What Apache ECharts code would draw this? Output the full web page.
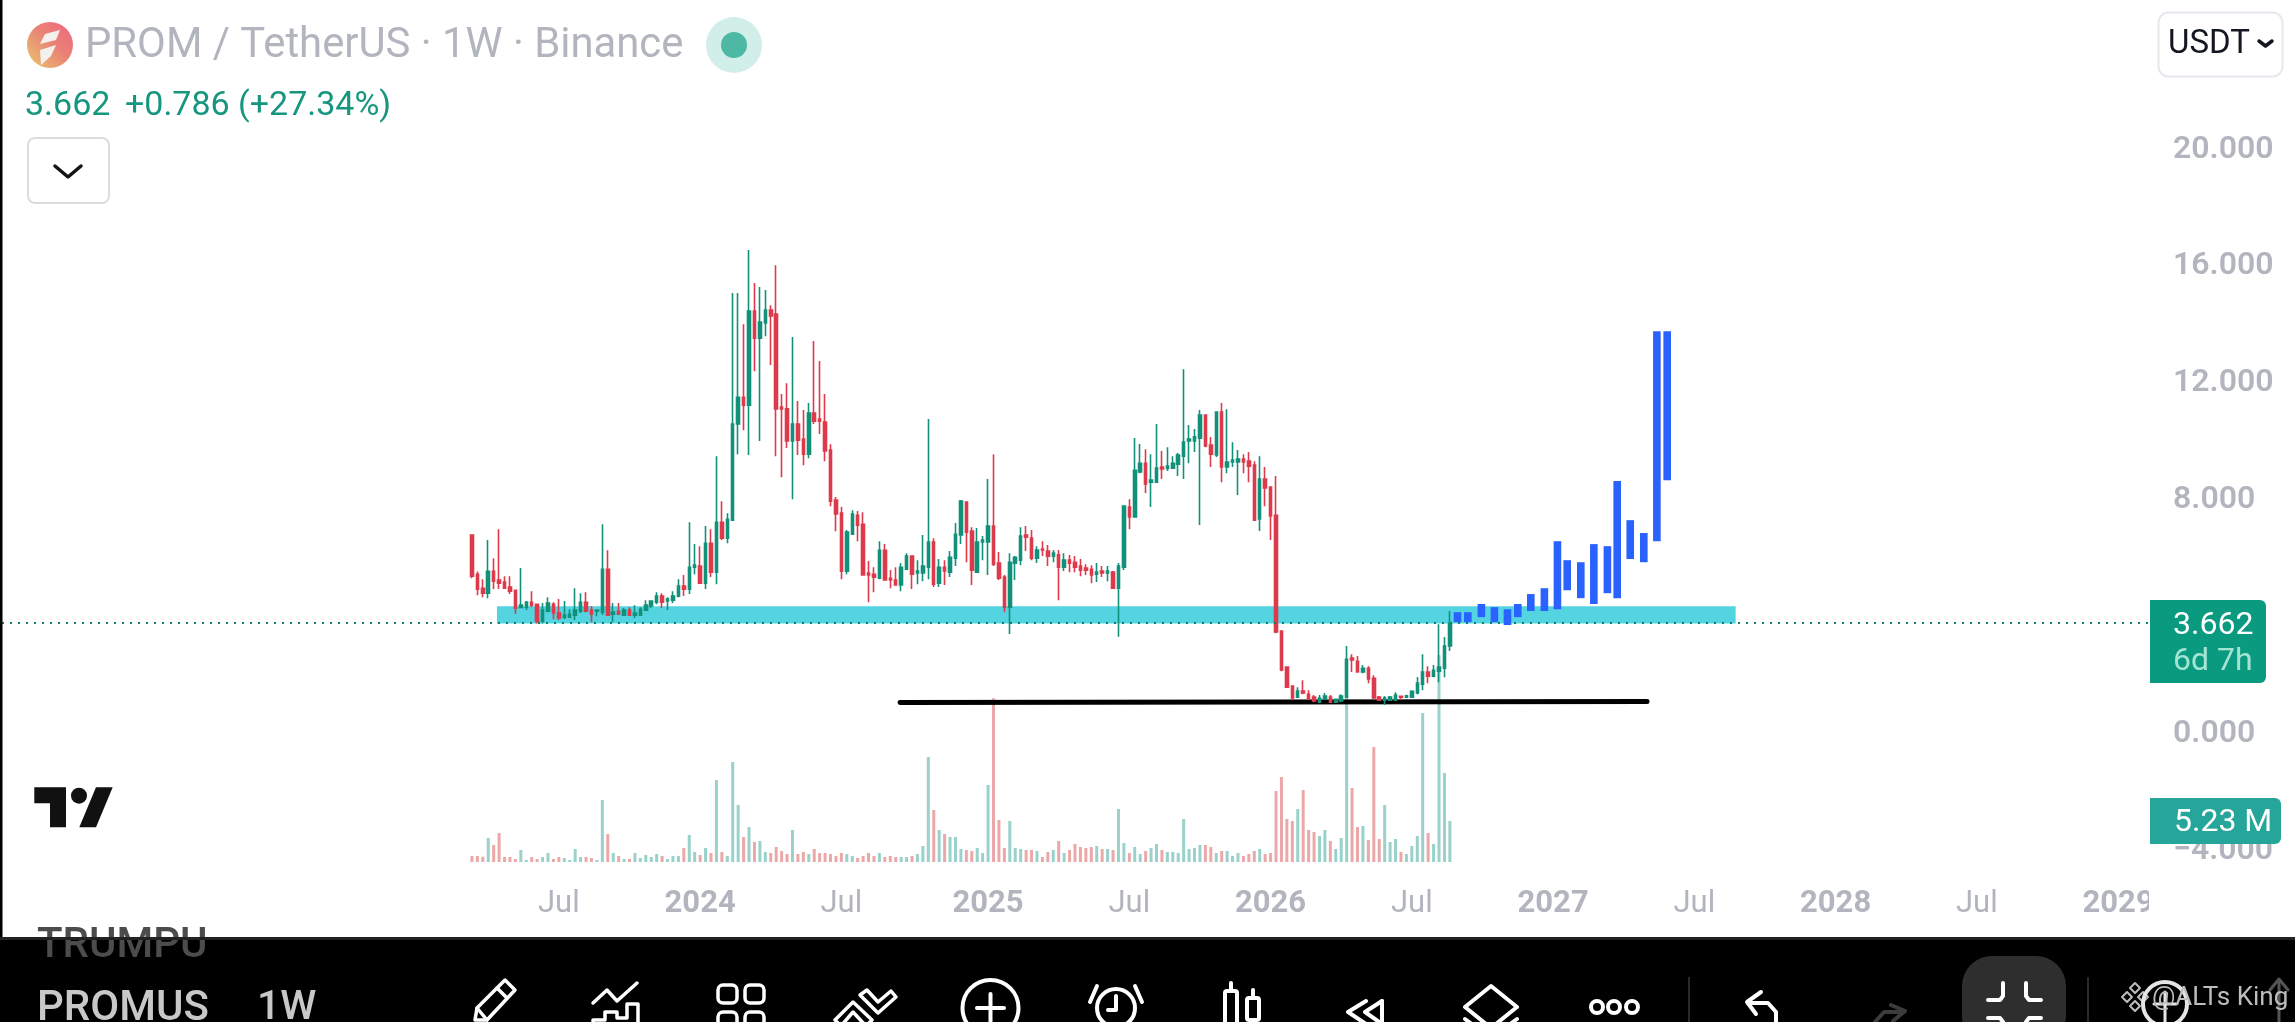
<!DOCTYPE html>
<html><head><meta charset="utf-8">
<style>html,body{margin:0;padding:0;background:#fff;overflow:hidden}#c{width:2295px;height:1022px}</style>
<script src="https://cdn.jsdelivr.net/npm/echarts@6/dist/echarts.min.js"></script>
</head><body><div id="c"></div>
<script>
// weekly candles: [open, close, low, high]
const ohlc = [
[6.68,5.27,5.20,6.68],[5.34,4.83,4.62,5.43],[4.86,4.69,4.55,5.17],[4.69,5.44,4.52,6.51],[5.44,5.10,4.83,5.89],[5.14,5.03,4.83,6.88],[5.07,4.86,4.83,5.27],[4.90,4.76,4.66,5.27],[4.79,4.18,3.99,4.79],[4.20,4.28,4.18,5.55],
[4.21,4.38,4.11,4.42],[4.38,4.28,4.21,4.76],[4.31,3.73,3.65,4.31],[3.73,4.11,3.65,4.35],[4.07,4.35,4.04,4.55],[4.31,4.01,3.80,4.38],[4.01,3.84,3.77,4.49],[3.87,3.94,3.80,4.42],[3.87,3.97,3.84,4.14],[3.94,4.11,3.77,4.86],
[4.07,4.38,4.01,4.69],[4.38,4.07,4.04,4.72],[4.11,3.97,3.70,4.25],[4.07,4.11,3.90,4.11],[4.04,5.51,3.94,7.05],[5.51,3.94,3.94,6.16],[3.97,4.04,3.70,4.35],[4.07,3.97,3.94,4.35],[3.94,4.11,3.94,4.18],[4.11,3.94,3.94,4.21],
[3.94,4.01,3.84,4.28],[3.94,4.14,3.94,4.21],[4.11,4.28,4.11,4.45],[4.25,4.42,4.18,4.42],[4.38,4.59,4.31,4.72],[4.59,4.38,4.18,4.69],[4.42,4.49,4.11,4.55],[4.45,4.59,4.35,4.76],[4.59,4.93,4.55,5.17],[4.93,4.83,4.59,5.31],
[4.83,5.58,4.66,7.12],[5.58,5.65,5.34,6.37],[5.62,5.03,5.03,6.30],[5.03,6.40,4.83,6.99],[6.40,5.41,5.24,6.88],[5.41,7.12,5.00,9.38],[7.12,6.57,6.51,7.84],[6.57,7.22,6.40,7.43],[7.19,10.48,7.16,14.97],[10.48,11.40,9.45,14.97],
[11.40,11.13,10.27,13.90],[11.13,14.35,9.42,16.44],[14.35,13.42,12.29,15.31],[13.42,13.97,9.90,15.17],[13.94,14.38,13.49,15.07],[14.38,14.18,12.50,14.55],[14.25,11.00,9.38,15.92],[11.06,11.00,8.66,11.51],[11.00,9.90,9.66,11.88],[9.90,10.48,7.91,13.46],
[10.48,9.93,9.42,11.27],[9.97,9.45,9.07,10.96],[9.45,10.86,9.31,11.20],[10.86,10.58,10.48,13.32],[10.65,10.58,10.14,12.64],[10.55,9.56,9.21,11.51],[9.59,7.84,7.67,9.79],[7.88,7.40,6.81,7.98],[7.43,5.44,5.17,7.64],[5.44,6.78,5.34,6.85],
[6.71,7.40,6.71,7.53],[7.36,7.02,6.47,7.50],[7.05,5.31,5.31,7.46],[5.38,5.31,4.38,5.79],[5.34,5.24,4.72,5.58],[5.20,6.16,5.17,6.47],[6.16,5.14,5.14,6.37],[5.20,5.14,4.86,5.48],[5.14,4.97,4.97,5.58],[4.97,5.58,4.76,5.72],
[5.51,5.96,5.48,6.06],[5.96,5.34,4.83,5.96],[5.38,5.45,5.00,5.82],[5.38,5.62,5.10,6.68],[5.58,6.44,5.17,10.65],[6.44,5.00,4.90,6.57],[5.03,5.58,4.90,5.86],[5.58,5.45,4.97,5.82],[5.41,5.92,5.24,6.13],[5.89,6.71,5.62,7.09],
[6.68,7.84,6.37,7.88],[7.81,6.78,5.75,7.81],[6.82,5.48,4.97,6.95],[5.41,6.44,5.38,6.92],[6.44,6.51,5.82,6.65],[6.44,6.99,5.31,8.60],[6.99,5.68,5.62,9.45],[5.72,5.20,5.14,6.10],[5.24,4.21,4.04,5.31],[4.21,5.75,3.29,6.06],
[5.72,5.92,5.14,5.96],[5.82,6.65,5.65,6.95],[6.68,6.61,6.13,6.99],[6.58,5.89,5.82,6.85],[5.89,6.17,5.72,6.30],[6.20,6.17,5.96,6.47],[6.13,5.96,5.62,6.34],[5.96,6.06,5.75,6.17],[6.00,5.58,4.45,6.17],[5.58,5.82,5.45,6.06],
[5.82,5.72,5.41,6.00],[5.75,5.58,5.41,5.96],[5.62,5.48,5.27,5.86],[5.55,5.48,5.31,5.68],[5.51,5.31,5.03,5.65],[5.34,5.41,5.07,5.72],[5.45,5.38,5.24,5.62],[5.38,5.45,5.10,5.62],[5.41,4.86,4.86,5.45],[4.86,5.62,3.20,5.72],
[5.58,7.67,5.48,7.70],[7.64,7.30,6.88,7.91],[7.30,8.90,7.30,10.00],[8.84,9.14,8.80,9.80],[9.14,8.43,8.12,9.62],[8.49,8.56,7.64,9.45],[8.49,8.97,8.49,10.48],[9.01,8.94,8.60,9.56],[8.97,9.04,8.87,9.69],[8.97,9.14,8.94,9.38],
[9.11,9.42,8.70,9.49],[9.38,9.86,8.60,12.36],[9.90,9.97,9.14,10.45],[9.90,10.04,9.52,10.31],[10.00,10.79,7.02,10.96],[10.79,9.73,9.69,10.82],[9.76,9.45,9.01,10.04],[9.42,10.89,9.35,10.92],[10.89,9.01,8.49,11.20],[9.01,9.18,8.80,10.99],
[9.18,9.25,9.01,9.86],[9.18,9.28,8.05,9.59],[9.28,9.18,8.80,9.45],[9.21,9.04,8.49,9.52],[9.08,7.19,7.16,9.21],[7.23,8.60,6.82,9.38],[8.60,8.29,7.67,9.01],[8.32,7.33,6.51,8.32],[7.36,3.36,3.32,8.70],[3.39,2.06,2.02,3.39],
[2.16,1.47,1.44,2.19],[1.51,1.10,1.03,1.54],[1.13,1.34,1.13,1.47],[1.34,1.27,1.23,1.71],[1.23,1.06,1.06,1.37],[1.13,1.00,0.96,1.20],[0.96,1.10,0.96,1.20],[1.06,1.17,1.03,1.27],[1.13,0.96,0.93,1.20],[0.96,1.06,0.93,1.06],
[1.00,1.17,0.96,1.23],[1.13,2.43,1.10,2.88],[2.47,2.40,1.99,2.60],[2.36,1.99,1.99,2.54],[1.99,2.12,1.95,2.23],[2.12,1.75,1.61,2.19],[1.78,1.10,1.06,1.88],[1.13,1.03,1.00,1.17],[1.03,1.10,0.86,1.17],[1.03,1.13,1.00,1.17],
[1.03,1.20,1.00,1.30],[1.16,1.13,1.03,1.16],[1.13,1.18,1.13,1.18],[1.13,1.33,1.10,1.37],[1.27,1.61,1.23,1.82],[1.57,1.99,1.37,2.60],[1.99,1.85,1.61,2.19],[1.85,2.05,1.81,2.23],[2.02,2.16,1.64,3.63],[2.12,2.88,1.81,3.19],
[2.88,3.662,2.71,4.08]
];
// weekly volume, millions
const volumes = [
.77,.77,.68,3.06,2.17,3.70,.64,.64,.38,1.53,.26,.64,.38,.64,1.15,.38,.64,.51,.26,1.66,.64,.64,.51,.26,7.91,3.57,1.15,.77,.38,.38,
1.15,.51,.89,.64,1.02,.77,.38,.77,.77,1.79,3.44,1.28,.89,1.79,1.15,10.46,1.28,.77,12.76,7.27,3.19,4.46,2.55,2.68,1.28,1.15,1.91,1.40,1.02,4.08,
1.02,1.28,1.02,1.66,1.15,1.15,1.02,.77,1.15,1.02,.77,.51,.77,1.15,.77,1.15,.64,.77,.64,.64,.64,.77,1.02,2.04,13.39,6.63,4.08,3.57,3.19,3.19,
1.66,1.53,1.40,1.79,1.15,9.82,20.88,5.36,1.79,5.23,1.79,1.66,1.53,1.53,1.40,.64,1.28,1.53,2.68,1.15,1.53,2.30,1.91,1.79,1.91,2.04,1.66,1.66,1.53,6.76,
2.42,1.15,1.91,1.02,1.40,1.79,2.30,1.53,1.28,1.28,1.15,5.48,1.66,1.79,2.17,2.17,1.91,1.15,1.40,1.40,.77,1.15,.77,1.02,1.40,1.66,1.02,1.15,9.06,10.84,
5.48,5.23,6.76,9.18,4.08,3.83,3.32,4.08,2.68,1.66,3.06,21.9,9.44,4.46,4.59,2.81,14.67,2.93,7.27,2.55,2.93,1.28,1.02,2.04,3.32,19.0,3.70,2.30,26.4,11.35,
5.23];
// hand-drawn forecast boxes, in weeks since the first candle
const forecastWeek = [181.4,183.3,185.8,188.2,190.6,192.5,194.9,197.4,199.8,201.6,204.1,206.5,209,210.8,213.2,215.7,218.1,220];
const forecastLow  = [3.70,3.70,3.87,3.70,3.60,3.87,4.08,4.08,4.14,4.79,4.52,4.32,4.69,4.52,5.86,5.75,6.47,8.56];
const forecastHigh = [4.04,4.04,4.32,4.21,4.14,4.32,4.66,4.86,6.47,5.82,5.75,6.37,6.30,8.53,7.19,6.75,13.66,13.66];
const supportBand = [4.6,232.6,3.65,4.24];
const supportLine = [[78.8,0.95],[216.3,0.985]];
const tickWeeks = [102,128,154,181,207,233,259,285,311,337,363,389];
const tickLabels = ['Jul','2024','Jul','2025','Jul','2026','Jul','2027','Jul','2028','Jul','2029'];
const priceTicks = {min:-4,max:20,interval:4};
const lastPrice = 3.67;

const N = 395, FIRST = 86;
const categories = Array.from({length:N},(_, i)=>{const k=tickWeeks.indexOf(i);return k<0?'':tickLabels[k];});
const pad = Array.from({length:FIRST},()=>[null,null,null,null]);
const UP='#12917a', DOWN='#dd3a4c', VUP='#99d1cb', VDOWN='#eca8a8', GREY='#b2b5be';
const volItems = pad.map(()=>null).concat(volumes.map((v,i)=>({value:v,itemStyle:{color:ohlc[i][1]>=ohlc[i][0]?VUP:VDOWN}})));

// ---- decorations ----
const g=[]; const Z=50;
const txt=(x,y,text,font,fill,align,z)=>g.push({type:'text',z:z||Z,silent:true,style:{x,y,text,font,fill,textAlign:align||'left',textVerticalAlign:'middle'}});
const rect=(x,y,w,h,fill,r,stroke,lw,z)=>g.push({type:'rect',z:z||Z,silent:true,shape:{x,y,width:w,height:h,r:r||0},style:{fill:fill||'none',stroke:stroke||null,lineWidth:lw||0}});
const poly=(pts,stroke,lw,z)=>g.push({type:'polyline',z:z||Z,silent:true,shape:{points:pts},style:{stroke:stroke||'#fff',lineWidth:lw||3.5,fill:'none',lineCap:'round',lineJoin:'round'}});
const pgon=(pts,fill,stroke,lw,z)=>g.push({type:'polygon',z:z||Z,silent:true,shape:{points:pts},style:{fill:fill||'none',stroke:stroke||null,lineWidth:lw||0,lineJoin:'round'}});
const circ=(cx,cy,r,fill,stroke,lw,z)=>g.push({type:'circle',z:z||Z,silent:true,shape:{cx,cy,r},style:{fill:fill||'none',stroke:stroke||null,lineWidth:lw||0}});

// right scale: clip the time labels at the pane edge
rect(2149,870,146,66,'#fff',0,null,0,20);
// header
g.push({type:'circle',z:Z,silent:true,shape:{cx:50,cy:45,r:23},style:{fill:{type:'linear',x:0,y:1,x2:1,y2:0,colorStops:[{offset:0,color:'#e8c86c'},{offset:.55,color:'#ea8276'},{offset:1,color:'#ee6680'}]}}});
pgon([[40,44],[45,34],[60,30],[56,40]],'#f4f0ee');
pgon([[40,50],[56,45],[51,56],[41,65]],'#f4f0ee');
txt(85,47,'PROM / TetherUS · 1W · Binance','41.8px Roboto',GREY);
circ(734,45,28,'#d2eee9'); circ(734,45,13,'#4db8a4');
txt(25,106,'3.662','34px Roboto','#17967f');
txt(125,106,'+0.786 (+27.34%)','34px Roboto','#17967f');
rect(28,138,81,65,'#fff',7,'#dcdcdc',2);
poly([[55,166],[68,177],[81,166]],'#131313',3.5);
// USDT
rect(2158.5,12.5,124,64,'#fff',10,'#e6e8ee',2);
txt(2168,45,'USDT','33px Roboto','#131722');
poly([[2259,41],[2265.5,46],[2272,41]],'#131722',3.5);
// TV logo
pgon([[34.3,787.3],[66,787.3],[66,827.3],[50,827.3],[50,803.3],[34.3,803.3]],'#111');
circ(79,795.7,8,'#111');
pgon([[96,787.3],[112.7,787.3],[96,827.3],[79.3,827.3]],'#111');
// price labels
g.push({type:'rect',z:Z,silent:true,shape:{x:2150,y:600,width:116,height:83,r:[0,6,6,0]},style:{fill:'#0a9a80'}});
txt(2173,626,'3.662','32px Roboto','#fff');
txt(2173,662,'6d 7h','32px Roboto','#a5e3d3');
g.push({type:'rect',z:Z,silent:true,shape:{x:2150,y:798,width:131,height:46,r:[0,6,6,0]},style:{fill:'#26a69a'}});
txt(2174,823,'5.23 M','32px Roboto','#fff');
// bottom bar
rect(0,937,2295,85,'#000',0,null,0,40);
rect(0,937,2295,3,'#222',0,null,0,43);
rect(0,0,2.5,1022,'#000',0,null,0,41);
txt(37,946,'TRUMPU','500 42px Roboto','#4c4c4c','left',42);
txt(37,1009,'PROMUS','500 42px Roboto','#c8c8c8');
txt(257,1009,'1W','500 41px Roboto','#c8c8c8');
// pencil
pgon([[477,1008],[505,980],[515,990],[487,1020],[475,1020]],null,'#fff',3.5); poly([[477,1008],[487,1020]]); poly([[497,988],[507,998]]);
// indicators
poly([[593,1003],[607,990],[617,1001],[637,983]]);
poly([[593,1026],[593,1020],[605,1020],[605,1012],[617,1012],[617,1018],[627,1018],[627,1004],[638,1004],[638,1026]]);
// apps
[[718,985],[745,985],[718,1012],[745,1012]].forEach(p=>rect(p[0],p[1],19,18,null,5,'#fff',3.5));
// chevrons tool
pgon([[860,995],[867,990],[878,1002],[891,991],[896,997],[878,1013]],null,'#fff',3.5);
pgon([[835,1020],[853,1002],[872,1020],[866,1026],[853,1012],[841,1026]],null,'#fff',3.5);
// plus
circ(990.5,1008,28,null,'#fff',4); poly([[990.5,994],[990.5,1022]],'#fff',4); poly([[977,1008],[1004,1008]],'#fff',4);
// alarm
circ(1116,1008,19,null,'#fff',4); poly([[1116,996],[1116,1010],[1108,1010]],'#fff',4);
poly([[1090,1002],[1097,986]],'#fff',4); poly([[1142,1002],[1135,986]],'#fff',4);
// candles
rect(1225,991,12,40,null,2,'#fff',4); poly([[1231,983],[1231,991]],'#fff',4);
rect(1247,998,12,22,null,2,'#fff',4); poly([[1253,990],[1253,998]],'#fff',4); poly([[1253,1020],[1253,1024]],'#fff',4);
// rewind
poly([[1366,1001],[1348,1012],[1366,1024]],'#fff',4); poly([[1382,1001],[1365,1012],[1382,1024]],'#fff',4); poly([[1382,1001],[1382,1026]],'#fff',4);
// layers
pgon([[1491,986],[1517,1007],[1491,1028],[1465,1007]],null,'#fff',4);
poly([[1465,1019],[1477,1028]],'#fff',4); poly([[1517,1019],[1505,1028]],'#fff',4);
// more
[1597,1614,1632].forEach(x=>circ(x,1007,6,null,'#fff',4));
rect(1688,977,2,50,'#2a2a2a');
// undo / redo
poly([[1756,1014],[1747,1002],[1761,992]],'#fff',4); poly([[1748,1003],[1768,1003],[1776,1012],[1776,1028]],'#fff',4);
poly([[1891,1005],[1905,1011],[1893,1021]],'#3c3c3c',4); poly([[1904,1012],[1884,1012],[1875,1022],[1875,1030]],'#3c3c3c',4);
// fullscreen button
rect(1962,956,104,90,'#2e2e2e',30,null,0,44);
poly([[1988,1000],[2000,1000],[2003,996],[2003,983]],'#fff',4,45);
poly([[2041,1000],[2029,1000],[2026,996],[2026,983]],'#fff',4,45);
poly([[1988,1018],[2000,1018],[2003,1022]],'#fff',4,45);
poly([[2041,1018],[2029,1018],[2026,1022]],'#fff',4,45);
rect(2087,977,2,50,'#2a2a2a');
// watermark
[[2135,988],[2127,997],[2143,997],[2135,1006]].forEach(p=>pgon([[p[0],p[1]-5],[p[0]+5,p[1]],[p[0],p[1]+5],[p[0]-5,p[1]]],null,'#bdbdbd',2));
circ(2165,1004,22,null,'#e6e6e6',4); poly([[2165,992],[2165,1022]],'#e6e6e6',3); poly([[2154,1004],[2176,1004]],'#e6e6e6',3);
poly([[2279,1022],[2279,980]],'#555',3); poly([[2270,990],[2279,979],[2288,990]],'#555',3);
txt(2152,998,'@ALTs King','26px Roboto','#bdbdbd');

const chart = echarts.init(document.getElementById('c'),null,{renderer:'canvas'});
chart.setOption({
  animation:false, backgroundColor:'#fff',
  grid:[
    {left:2,top:146,width:2146,height:701},
    {left:2,top:642.5,width:2146,height:219.5}
  ],
  xAxis:[
    {type:'category',gridIndex:0,data:categories,show:false,boundaryGap:true},
    {type:'value',gridIndex:0,show:false,min:-FIRST-0.5,max:N-FIRST-0.5},
    {type:'category',gridIndex:1,data:categories,boundaryGap:true,
      axisLine:{show:false},axisTick:{show:false},splitLine:{show:false},
      axisLabel:{show:true,margin:27,interval:(i,v)=>v!=='',hideOverlap:false,color:GREY,fontFamily:'Roboto',fontSize:31,
        formatter:v=>v==='Jul'?v:'{y|'+v+'}',rich:{y:{fontWeight:700,fontSize:31,color:GREY,fontFamily:'Roboto'}}}}
  ],
  yAxis:[
    {type:'value',gridIndex:0,position:'right',min:priceTicks.min,max:priceTicks.max,interval:priceTicks.interval,
      axisLine:{show:false},axisTick:{show:false},splitLine:{show:false},
      axisLabel:{margin:25,formatter:v=>v===4?'':'{p|'+(v<0?'\u2212':'')+Math.abs(v).toFixed(3)+'}',
        rich:{p:{color:GREY,fontFamily:'Roboto',fontSize:32,fontWeight:600,padding:[7,0,0,0]}}}},
    {type:'value',gridIndex:1,min:0,max:28,show:false}
  ],
  series:[
    {type:'bar',name:'Volume',xAxisIndex:2,yAxisIndex:1,barWidth:3,data:volItems,z:1,silent:true},
    {type:'custom',name:'Zone',xAxisIndex:1,yAxisIndex:0,z:2,silent:true,data:[supportBand],encode:{x:[0,1],y:[2,3]},
      renderItem:(p,api)=>{const a=api.coord([api.value(0),api.value(3)]),b=api.coord([api.value(1),api.value(2)]);
        return {type:'rect',shape:{x:a[0],y:a[1],width:b[0]-a[0],height:b[1]-a[1]},style:{fill:'#54d3e1'}};}},
    {type:'line',name:'Support',xAxisIndex:1,yAxisIndex:0,z:3,silent:true,showSymbol:false,symbol:'none',data:supportLine,
      lineStyle:{color:'#000',width:5,cap:'round'}},
    {type:'candlestick',name:'PROM/USDT',xAxisIndex:0,yAxisIndex:0,z:4,silent:true,barWidth:3,
      data:pad.concat(ohlc),
      itemStyle:{color:UP,color0:DOWN,borderColor:UP,borderColor0:DOWN,borderWidth:1.6},
      markLine:{silent:true,symbol:'none',label:{show:false},data:[{yAxis:lastPrice}],
        lineStyle:{color:'#0a7f6b',type:[2,6],width:2}}},
    {type:'custom',name:'Forecast',xAxisIndex:1,yAxisIndex:0,z:5,silent:true,
      data:forecastWeek.map((w,i)=>[w,forecastLow[i],forecastHigh[i]]),encode:{x:0,y:[1,2]},
      renderItem:(p,api)=>{const lo=api.coord([api.value(0),api.value(1)]),hi=api.coord([api.value(0),api.value(2)]);
        const w=api.size([1.4,0])[0];
        return {type:'rect',shape:{x:lo[0]-w/2,y:hi[1],width:w,height:lo[1]-hi[1]},style:{fill:'#2962ff'}};}}
  ],
  graphic:{elements:g}
});
</script></body></html>
